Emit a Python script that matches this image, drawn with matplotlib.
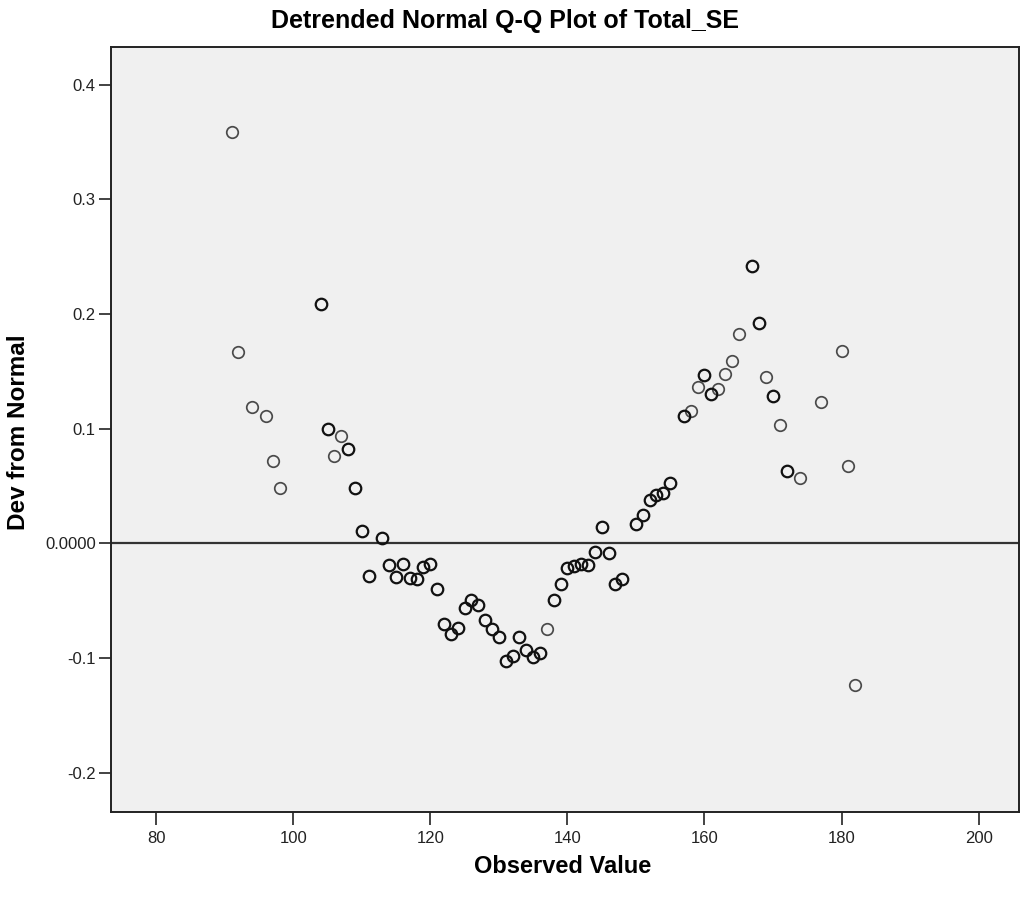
import matplotlib
matplotlib.use("Agg")
import matplotlib.pyplot as plt
import numpy as np

observed = [91, 92, 94, 96, 97, 98, 104, 105, 106, 107, 108, 109, 110, 111, 113,
            114, 115, 116, 117, 118, 119, 120, 121, 122, 123, 124, 125, 126, 127,
            128, 129, 130, 131, 132, 133, 134, 135, 136, 137, 138, 139, 140, 141,
            142, 143, 144, 145, 146, 147, 148, 150, 151, 152, 153, 154, 155, 157,
            158, 159, 160, 161, 162, 163, 164, 165, 167, 168, 169, 170, 171, 172,
            174, 177, 180, 181, 182]
deviation = [0.359, 0.167, 0.119, 0.111, 0.072, 0.048, 0.209, 0.100, 0.076, 0.094,
             0.082, 0.048, 0.0105, -0.0285, 0.0047, -0.019, -0.029, -0.018, -0.030,
             -0.031, -0.021, -0.018, -0.040, -0.070, -0.079, -0.074, -0.0565,
             -0.0495, -0.054, -0.067, -0.0745, -0.0815, -0.103, -0.098, -0.082,
             -0.093, -0.0995, -0.0955, -0.0745, -0.0495, -0.0355, -0.0217, -0.0195,
             -0.0183, -0.019, -0.008, 0.0144, -0.0087, -0.0355, -0.031, 0.0166,
             0.0244, 0.038, 0.0424, 0.0436, 0.0526, 0.111, 0.1152, 0.1367, 0.147,
             0.130, 0.1344, 0.1477, 0.159, 0.1824, 0.242, 0.1925, 0.145, 0.1288,
             0.103, 0.0634, 0.057, 0.123, 0.1675, 0.0672, -0.124]
# number of cases sharing each value (darker rings for repeated cases)
counts = [1, 1, 1, 1, 1, 1, 2, 2, 1, 1, 2, 2, 2, 2, 2,
          2, 2, 2, 2, 2, 2, 2, 2, 2, 2, 2, 2, 2, 2,
          2, 2, 2, 2, 2, 2, 2, 2, 2, 1, 2, 2, 2, 2,
          2, 2, 2, 2, 2, 2, 2, 2, 2, 2, 2, 2, 2, 2,
          1, 1, 2, 2, 1, 1, 1, 1, 2, 2, 1, 2, 1, 2,
          1, 1, 1, 1, 1]

xticks = [80, 100, 120, 140, 160, 180, 200]
yticks = [-0.2, -0.1, 0.0, 0.1, 0.2, 0.3, 0.4]
ytick_labels = ["-0.2", "-0.1", "0.0000", "0.1", "0.2", "0.3", "0.4"]

narrow = ["Liberation Sans Narrow", "Liberation Sans", "DejaVu Sans"]
plt.rcParams["font.family"] = ["Liberation Sans", "DejaVu Sans"]

fig = plt.figure(figsize=(10.30, 8.97), dpi=100)
ax = fig.add_axes([111 / 1030, 1 - 811.5 / 897, (1019 - 111) / 1030, (811.5 - 47.3) / 897])
ax.set_facecolor("#f0f0f0")

ax.axhline(0.0, color="#333333", linewidth=1.6, zorder=1)

obs = np.array(observed)
dev = np.array(deviation)
cnt = np.array(counts)
single = cnt == 1
ax.plot(obs[single], dev[single], linestyle="none", marker="o", markersize=8.3,
        markerfacecolor="none", markeredgecolor="#4a4a4a", markeredgewidth=1.25, zorder=3)
ax.plot(obs[~single], dev[~single], linestyle="none", marker="o", markersize=8.3,
        markerfacecolor="none", markeredgecolor="#111111", markeredgewidth=1.6, zorder=3)

ax.set_xlim(73.4, 205.9)
ax.set_ylim(-0.234, 0.4328)
ax.set_xticks(xticks)
ax.set_xticklabels([str(v) for v in xticks])
ax.set_yticks(yticks)
ax.set_yticklabels(ytick_labels)
ax.tick_params(axis="both", direction="out", length=9, width=1.2, color="#222222",
               labelsize=12, labelcolor="#222222")
ax.tick_params(axis="x", pad=5)
ax.tick_params(axis="y", pad=2)
for s in ax.spines.values():
    s.set_color("#222222")
    s.set_linewidth(1.4)

fig.text(505 / 1030, 1 - 21 / 897, "Detrended Normal Q-Q Plot of Total_SE",
         ha="center", va="center", fontsize=18, fontweight="bold", family=narrow)
fig.text(563 / 1030, 1 - 866 / 897, "Observed Value",
         ha="center", va="center", fontsize=17, fontweight="bold", family=narrow)
fig.text(19 / 1030, 1 - 432 / 897, "Dev from Normal", rotation=90,
         ha="center", va="center", fontsize=17.5, fontweight="bold", family=narrow)

fig.savefig("out.png", dpi=100, facecolor="white")
